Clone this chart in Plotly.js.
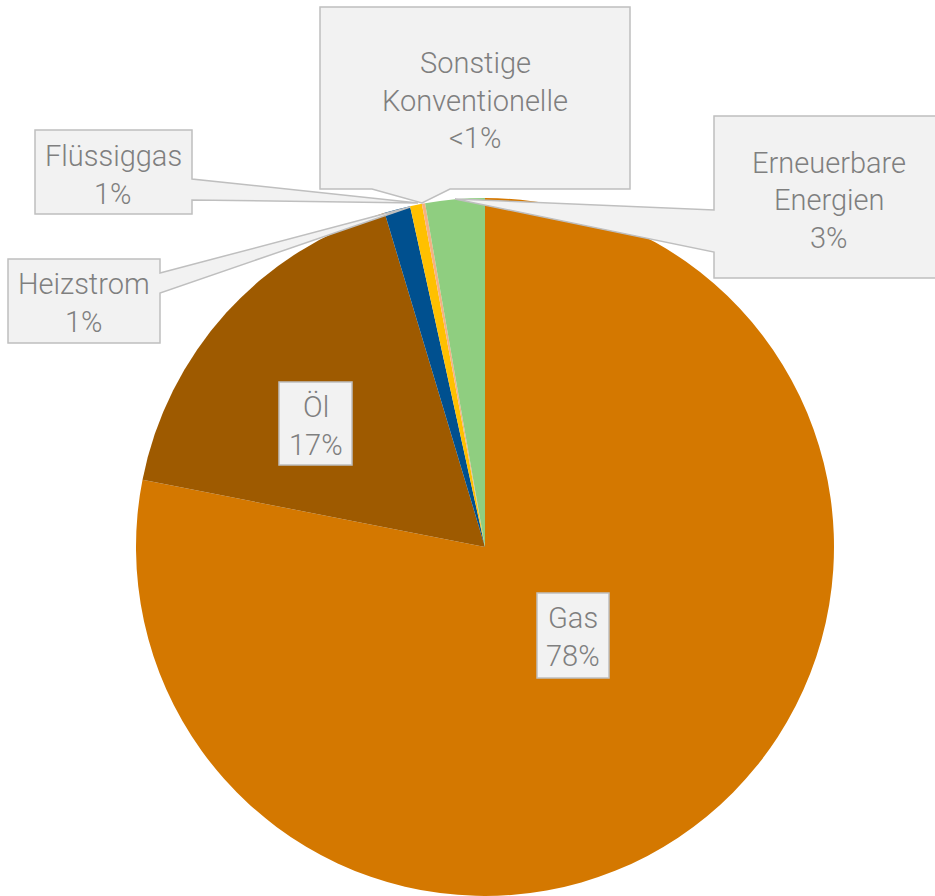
<!DOCTYPE html>
<html>
<head>
<meta charset="utf-8">
<script src="https://cdn.plot.ly/plotly-3.0.1.min.js"></script>
<style>html,body{margin:0;padding:0;background:#fff;}#chart{width:935px;height:896px;}</style>
</head>
<body>
<div id="chart"></div>
<script>
// ---- data ----
var categories = ['Gas', 'Öl', 'Heizstrom', 'Flüssiggas', 'Sonstige Konventionelle', 'Erneuerbare Energien'];
var shares = [78.2, 17.3, 1.2, 0.55, 0.15, 2.75];
var shareLabels = ['78%', '17%', '1%', '1%', '<1%', '3%'];
var nameLines = [['Gas'], ['Öl'], ['Heizstrom'], ['Flüssiggas'], ['Sonstige', 'Konventionelle'], ['Erneuerbare', 'Energien']];
var sliceColors = ['#d47800', '#9e5a00', '#00508f', '#ffc000', '#f4b183', '#8fce80'];

// ---- layout helpers (pixel -> paper) ----
var W = 935, H = 896;
function X(px) { return px / W; }
function Y(py) { return 1 - py / H; }

// label boxes: [left, top, right, bottom] in px, optional wedge
var boxes = [
  {b: [537, 593, 609, 678]},
  {b: [279, 382, 352, 465]},
  {b: [8, 259, 160, 343], side: 'right', w: [273, 293], tip: [410, 207]},
  {b: [35, 130, 192, 214], side: 'right', w: [179, 200], tip: [418, 203]},
  {b: [320, 7, 630, 189], side: 'bottom', w: [372, 450], tip: [422, 203]},
  {b: [714, 116, 950, 278], side: 'left', w: [210, 252], tip: [455, 199]}
];

function pt(px, py) { return X(px) + ',' + Y(py); }
function boxPath(o) {
  var l = o.b[0], t = o.b[1], r = o.b[2], bt = o.b[3];
  var p = 'M' + pt(l, t) + ' L' + pt(r, t);
  if (o.side === 'right') {
    p += ' L' + pt(r, o.w[0]) + ' L' + pt(o.tip[0], o.tip[1]) + ' L' + pt(r, o.w[1]);
  }
  p += ' L' + pt(r, bt);
  if (o.side === 'bottom') {
    p += ' L' + pt(o.w[1], bt) + ' L' + pt(o.tip[0], o.tip[1]) + ' L' + pt(o.w[0], bt);
  }
  p += ' L' + pt(l, bt);
  if (o.side === 'left') {
    p += ' L' + pt(l, o.w[1]) + ' L' + pt(o.tip[0], o.tip[1]) + ' L' + pt(l, o.w[0]);
  }
  p += ' Z';
  return p;
}

var shapes = boxes.map(function (o) {
  return {
    type: 'path', xref: 'paper', yref: 'paper', layer: 'above',
    path: boxPath(o),
    fillcolor: '#f2f2f2',
    line: {color: '#bfbfbf', width: 1.5}
  };
});

// centre of the label text block (px) and line pitch
var textCenters = [[573, 637], [316, 426], [84, 303], [113, 175], [475, 101], [829, 200]];
var LINE = 37.5;
var annotations = [];
categories.forEach(function (c, i) {
  var lines = nameLines[i].concat([shareLabels[i]]);
  var n = lines.length;
  lines.forEach(function (txt, k) {
    var cy = textCenters[i][1] + (k - (n - 1) / 2) * LINE;
    annotations.push({
      xref: 'paper', yref: 'paper',
      x: X(textCenters[i][0]), y: Y(cy),
      xanchor: 'center', yanchor: 'middle',
      text: txt,
      showarrow: false,
      font: {family: 'Roboto, "Noto Sans", sans-serif', size: 29, weight: 300, color: '#7f7f7f'}
    });
  });
});

var trace = {
  type: 'pie',
  labels: categories,
  values: shares,
  sort: false,
  direction: 'clockwise',
  rotation: 0,
  textinfo: 'none',
  hoverinfo: 'label+percent',
  marker: {colors: sliceColors, line: {width: 0}},
  domain: {x: [X(485 - 349), X(485 + 349)], y: [Y(896), Y(547 - 349)]},
  showlegend: false
};

var layout = {
  width: W, height: H,
  margin: {l: 0, r: 0, t: 0, b: 0},
  paper_bgcolor: '#ffffff',
  showlegend: false,
  shapes: shapes,
  annotations: annotations
};

Plotly.newPlot('chart', [trace], layout, {displayModeBar: false, staticPlot: true});
</script>
</body>
</html>
